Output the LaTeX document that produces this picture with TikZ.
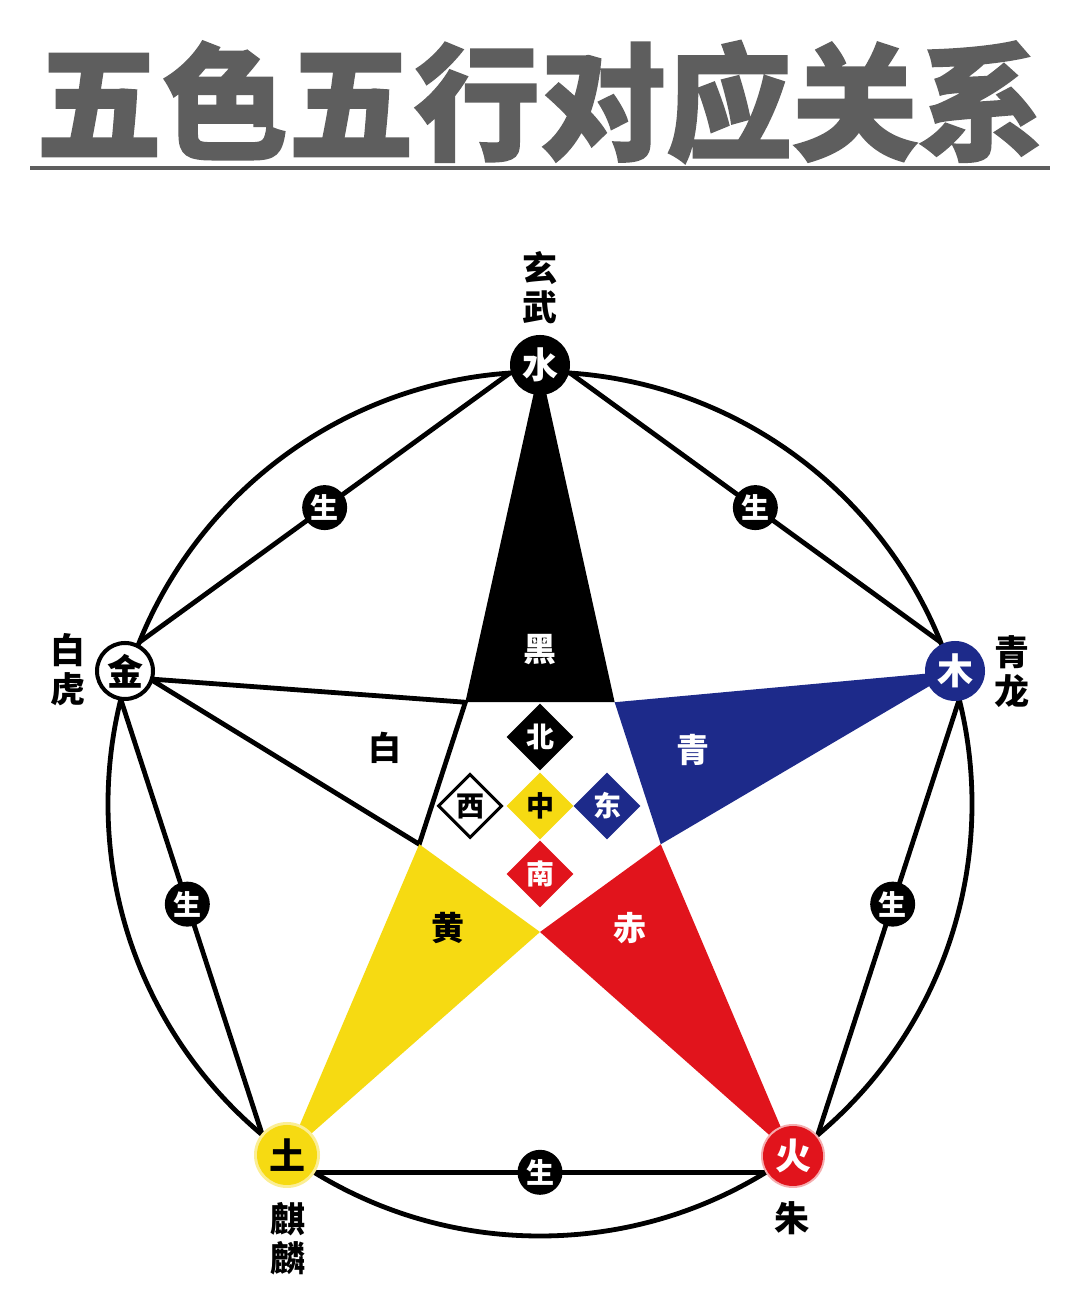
\documentclass[tikz,border=0pt]{standalone}
\usepackage{fontspec}
\usetikzlibrary{shapes.geometric,calc}
\newfontfamily\cjk{Noto Sans CJK SC}
\newfontfamily\titlefont[BoldFeatures={FakeBold=1.5}]{Noto Sans CJK SC}
\definecolor{navy}{HTML}{1D2A8A}
\definecolor{vermil}{HTML}{E1141C}
\definecolor{gold}{HTML}{F6DA12}
\definecolor{titlegray}{HTML}{5E5E5E}
\begin{document}
\begin{tikzpicture}[x=1pt,y=1pt,
  thick line/.style={line width=4.8pt},
  elem/.style={circle, minimum size=60pt, inner sep=0pt, font=\cjk\bfseries\fontsize{36}{36}\selectfont},
  sheng/.style={circle, fill=black, minimum size=45pt, inner sep=0pt, text=white, font=\cjk\bfseries\fontsize{28}{28}\selectfont},
  dia/.style={diamond, minimum width=67pt, minimum height=67pt, inner sep=0pt, font=\cjk\bfseries\fontsize{28}{28}\selectfont},
  lab/.style={font=\cjk\bfseries\fontsize{35}{39}\selectfont, align=center, inner sep=0pt},
  spk/.style={font=\cjk\bfseries\fontsize{33}{33}\selectfont, inner sep=0pt}
]
\useasboundingbox (0,0) rectangle (1080,1305);
\fill[white] (0,0) rectangle (1080,1305);

% title
\node[text=titlegray, font=\titlefont\bfseries\fontsize{126}{126}\selectfont, inner sep=0pt] (title) at (540,1203) {五色五行对应关系};
\draw[titlegray, line width=4.5pt] (30,1137) -- (1050,1137);

% circle
\coordinate (O) at (540,501);
\draw[thick line] (O) circle (432);

% node centres
\coordinate (cS) at (540,940);
\coordinate (cJ) at (125,634);
\coordinate (cM) at (955,634);
\coordinate (cT) at (287,150);
\coordinate (cH) at (793,149);
\coordinate (cJt) at (150,626);

% chord end points
\foreach \n/\a in {s1/94, s2/86, j1/158, j2/166, m1/22, m2/14, t1/230, t2/238.5, h1/301.5, h2/310}
  \coordinate (\n) at ($(O)+(\a:432)$);

% inner pentagon
\coordinate (P) at (540,500);
\foreach \n/\a in {i1/54, i2/126, i3/198, i4/270, i5/342}
  \coordinate (\n) at ($(P)+(\a:127)$);

% white spike
\draw[thick line, fill=white, line join=miter] (cJt) -- (i2) -- (i3) -- cycle;
% coloured spikes
\fill[black] (cS) -- (i1) -- (i2) -- cycle;
\fill[navy] (cM) -- (i5) -- (i1) -- cycle;
\fill[vermil] (cH) -- (i4) -- (i5) -- cycle;
\fill[gold] (cT) -- (i3) -- (i4) -- cycle;

% chords with sheng
\draw[thick line] (s1) -- node[sheng, pos=0.5] (g1) {生} (j1);
\draw[thick line] (s2) -- node[sheng, pos=0.5] (g2) {生} (m1);
\draw[thick line] (j2) -- node[sheng, pos=0.47] (g3) {生} (t1);
\draw[thick line] (m2) -- node[sheng, pos=0.47] (g4) {生} (h2);
\draw[thick line] (t2) -- node[sheng, pos=0.5] (g5) {生} (h1);

% element nodes
\fill[gold!45] (cT) circle (33);
\fill[vermil!35] (cH) circle (32);
\node[elem, fill=black, text=white] (shui) at (cS) {水};
\node[elem, fill=white, draw=black, line width=4pt, minimum size=56pt] (jin) at (cJ) {金};
\node[elem, fill=navy, text=white] (mu) at (cM) {木};
\node[elem, fill=gold, text=black] (tu) at (cT) {土};
\node[elem, fill=vermil, text=white] (huo) at (cH) {火};

% spike labels
\node[spk, text=white] (hei) at (540,655) {黑};
\node[spk, text=white] (qing) at (693,555) {青};
\node[spk, text=white] (chi) at (630,377) {赤};
\node[spk, text=black] (huang) at (448,377) {黄};
\node[spk, text=black] (bai) at (385,557) {白};

% direction diamonds
\node[dia, fill=black, text=white] (bei) at (540,568) {北};
\node[dia, fill=white, draw=black, line width=3pt, minimum width=64pt, minimum height=64pt] (xi) at (470,499) {西};
\node[dia, fill=gold, text=black] (zhong) at (540,499) {中};
\node[dia, fill=navy, text=white] (dong) at (607,499) {东};
\node[dia, fill=vermil, text=white] (nan) at (540,431) {南};

% outer labels
\node[lab] (xuanwu) at (540,1017) {玄\\武};
\node[lab] (baihu) at (68,635) {白\\虎};
\node[lab] (qinglong) at (1012,633) {青\\龙};
\node[lab] (qilin) at (288,66) {麒\\麟};
\node[lab] (zhu) at (792,87) {朱};
\end{tikzpicture}
\end{document}
